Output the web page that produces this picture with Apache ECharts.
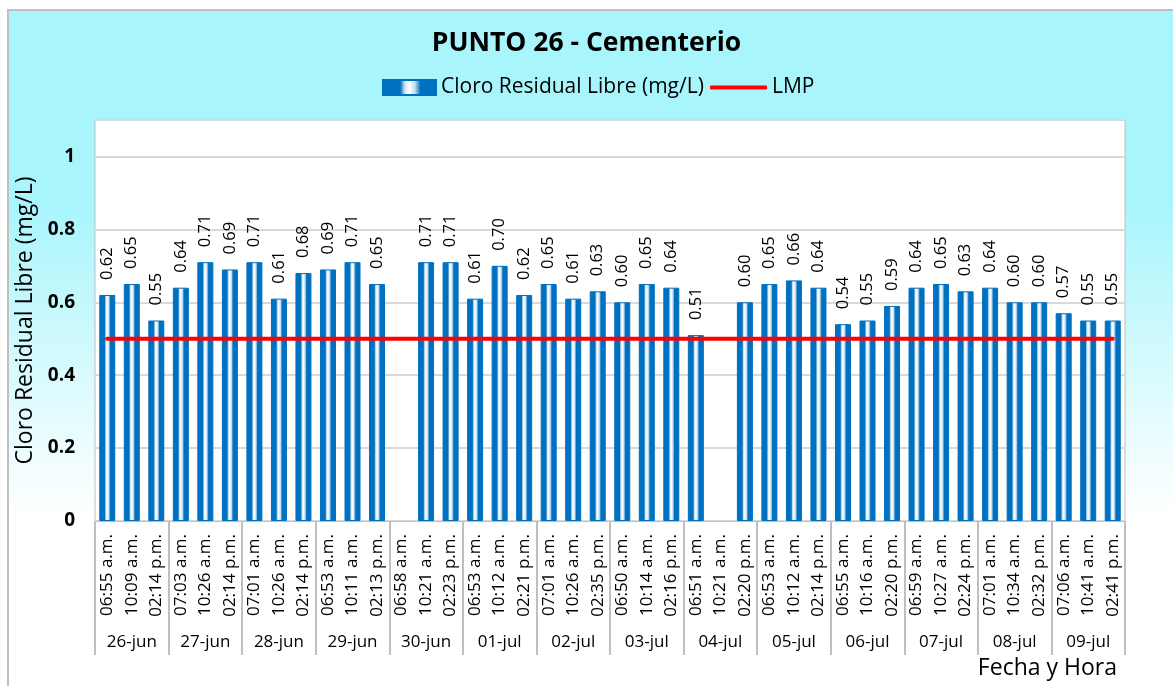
<!DOCTYPE html>
<html>
<head>
<meta charset="utf-8">
<script src="https://cdn.jsdelivr.net/npm/echarts@6/dist/echarts.min.js"></script>
<style>
  html, body { margin: 0; padding: 0; background: #ffffff; }
  #chart { width: 1173px; height: 686px; }
</style>
</head>
<body>
<div id="chart"></div>
<script>
// Sampling dates (three readings per day)
const dates = ['26-jun', '27-jun', '28-jun', '29-jun', '30-jun', '01-jul', '02-jul',
               '03-jul', '04-jul', '05-jul', '06-jul', '07-jul', '08-jul', '09-jul'];

// Sampling times, in the same order as the readings
const times = [
  '06:55 a.m.', '10:09 a.m.', '02:14 p.m.',
  '07:03 a.m.', '10:26 a.m.', '02:14 p.m.',
  '07:01 a.m.', '10:26 a.m.', '02:14 p.m.',
  '06:53 a.m.', '10:11 a.m.', '02:13 p.m.',
  '06:58 a.m.', '10:21 a.m.', '02:23 p.m.',
  '06:53 a.m.', '10:12 a.m.', '02:21 p.m.',
  '07:01 a.m.', '10:26 a.m.', '02:35 p.m.',
  '06:50 a.m.', '10:14 a.m.', '02:16 p.m.',
  '06:51 a.m.', '10:21 a.m.', '02:20 p.m.',
  '06:53 a.m.', '10:12 a.m.', '02:14 p.m.',
  '06:55 a.m.', '10:16 a.m.', '02:20 p.m.',
  '06:59 a.m.', '10:27 a.m.', '02:24 p.m.',
  '07:01 a.m.', '10:34 a.m.', '02:32 p.m.',
  '07:06 a.m.', '10:41 a.m.', '02:41 p.m.'
];

// Free residual chlorine (mg/L); null = no reading
const cloro = [
  0.62, 0.65, 0.55,
  0.64, 0.71, 0.69,
  0.71, 0.61, 0.68,
  0.69, 0.71, 0.65,
  null, 0.71, 0.71,
  0.61, 0.70, 0.62,
  0.65, 0.61, 0.63,
  0.60, 0.65, 0.64,
  0.51, null, 0.60,
  0.65, 0.66, 0.64,
  0.54, 0.55, 0.59,
  0.64, 0.65, 0.63,
  0.64, 0.60, 0.60,
  0.57, 0.55, 0.55
];

// Maximum permissible limit (LMP)
const lmpValue = 0.5;
const lmp = times.map(() => lmpValue);

// Value axis ticks
const yTicks = [0, 0.2, 0.4, 0.6, 0.8, 1];

const FONT = 'Open Sans';
const BLUE = '#0070C0';

const barFill = new echarts.graphic.LinearGradient(0, 0, 1, 0, [
  { offset: 0, color: BLUE },
  { offset: 0.33, color: BLUE },
  { offset: 0.42, color: '#d6e8f6' },
  { offset: 0.5, color: '#ffffff' },
  { offset: 0.6, color: '#c4ddf1' },
  { offset: 0.7, color: BLUE },
  { offset: 1, color: BLUE }
]);

const chart = echarts.init(document.getElementById('chart'), null, { renderer: 'canvas' });

chart.setOption({
  animation: false,
  textStyle: { fontFamily: FONT },
  graphic: {
    elements: [{
      type: 'rect',
      z: -10,
      left: 7, top: 9,
      shape: { width: 1180, height: 700 },
      style: {
        fill: new echarts.graphic.LinearGradient(0, 0, 0, 1, [
          { offset: 0, color: '#A9F5FC' },
          { offset: 0.28, color: '#A9F5FC' },
          { offset: 0.72, color: '#ffffff' },
          { offset: 1, color: '#ffffff' }
        ]),
        stroke: '#BFBFBF',
        lineWidth: 2
      }
    }, {
      type: 'text',
      right: 56, top: 657,
      style: { text: 'Fecha y Hora', font: '23px "Open Sans"', fill: '#000' }
    }]
  },
  title: {
    text: 'PUNTO 26 - Cementerio',
    left: 'center',
    top: 30,
    padding: 0,
    textStyle: { fontFamily: FONT, fontSize: 26.5, fontWeight: 'bold', color: '#000' }
  },
  legend: [{
    data: ['Cloro Residual Libre (mg/L)'],
    left: 382, top: 77,
    padding: 0,
    itemWidth: 53, itemHeight: 15,
    icon: 'rect',
    textStyle: { fontFamily: FONT, fontSize: 21, color: '#000' }
  }, {
    data: ['LMP'],
    left: 710, top: 77,
    padding: 0,
    itemWidth: 57, itemHeight: 4,
    icon: 'roundRect',
    textStyle: { fontFamily: FONT, fontSize: 21, color: '#000' }
  }],
  grid: {
    left: 95, top: 120, right: 48, bottom: 165,
    show: true,
    backgroundColor: '#ffffff',
    borderColor: '#BFBFBF',
    borderWidth: 1
  },
  xAxis: [{
    type: 'category',
    data: times,
    position: 'bottom',
    axisLine: { show: true, lineStyle: { color: '#BFBFBF', width: 1 } },
    axisTick: { show: false },
    axisLabel: {
      interval: 0, rotate: 90, margin: 13,
      fontFamily: FONT, fontSize: 17, color: '#000'
    }
  }, {
    type: 'category',
    data: dates,
    position: 'bottom',
    axisLine: { show: false },
    axisTick: { show: true, length: 134, interval: 0, lineStyle: { color: '#BFBFBF', width: 2 } },
    axisLabel: {
      interval: 0, margin: 113,
      fontFamily: FONT, fontSize: 17, color: '#000'
    }
  }],
  yAxis: {
    type: 'value',
    min: 0, max: 1.1, interval: 0.2,
    name: 'Cloro Residual Libre (mg/L)',
    nameLocation: 'middle',
    nameGap: 50,
    nameTextStyle: { fontFamily: FONT, fontSize: 23, color: '#000' },
    axisLine: { show: false },
    axisTick: { show: false },
    splitLine: { lineStyle: { color: '#D9D9D9', width: 2 } },
    axisLabel: {
      margin: 20,
      fontFamily: FONT, fontSize: 19, fontWeight: 'bold', color: '#000',
      formatter: v => {
        const t = yTicks.find(k => Math.abs(k - v) < 1e-6);
        return t === undefined ? '' : String(t);
      }
    }
  },
  series: [{
    name: 'Cloro Residual Libre (mg/L)',
    type: 'bar',
    data: cloro,
    barWidth: 16,
    itemStyle: { color: barFill, borderColor: BLUE, borderWidth: 1 },
    label: {
      show: true,
      position: 'top',
      rotate: 90,
      align: 'left',
      verticalAlign: 'middle',
      distance: 15,
      fontFamily: FONT, fontSize: 16.5, color: '#000',
      formatter: p => p.value == null ? '' : Number(p.value).toFixed(2)
    }
  }, {
    name: 'LMP',
    type: 'line',
    data: lmp,
    symbol: 'none',
    lineStyle: { color: '#FF0000', width: 4, cap: 'round' },
    itemStyle: { color: '#FF0000' },
    z: 5
  }]
});
</script>
</body>
</html>
